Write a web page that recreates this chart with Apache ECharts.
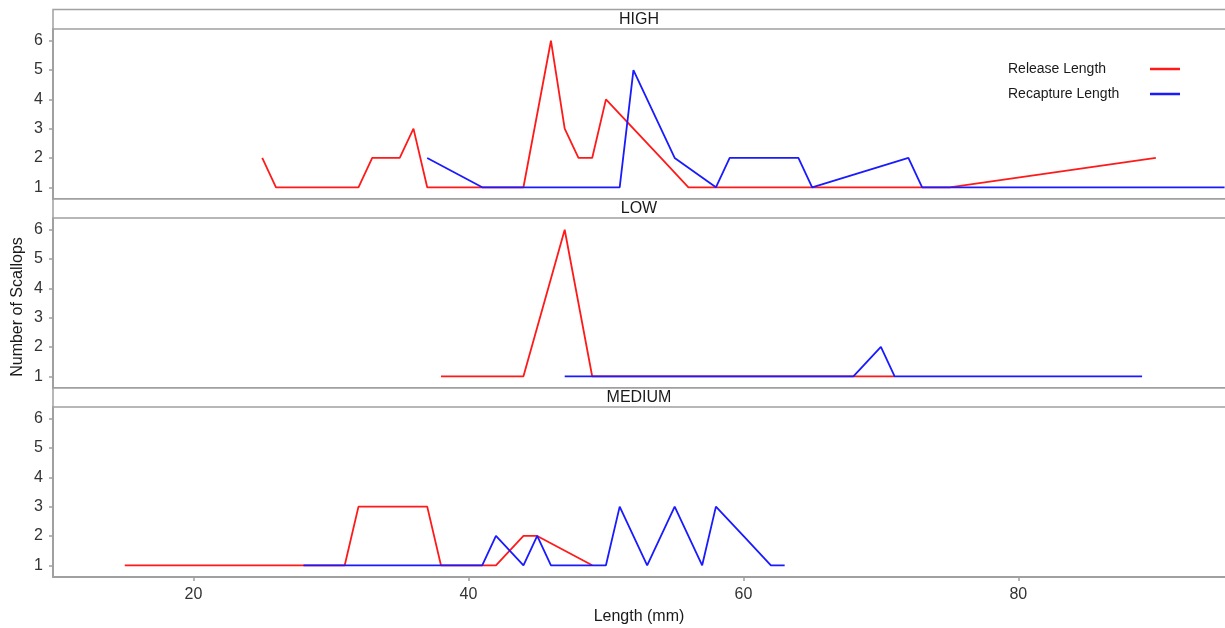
<!DOCTYPE html>
<html>
<head>
<meta charset="utf-8">
<script src="https://cdn.jsdelivr.net/npm/echarts@6/dist/echarts.min.js"></script>
<style>
html,body{margin:0;padding:0;background:#fff;}
#chart{width:1225px;height:628px;}
</style>
</head>
<body>
<div id="chart"></div>
<script>
// ---- data ----
const panels = ['HIGH', 'LOW', 'MEDIUM'];
const seriesNames = ['Release Length', 'Recapture Length'];
const xTicks = [20, 40, 60, 80];
const yTicks = [1, 2, 3, 4, 5, 6];

const highRelease = [[25,2],[26,1],[32,1],[33,2],[35,2],[36,3],[37,1],[44,1],[46,6],[47,3],[48,2],[49,2],[50,4],[52,3],[54,2],[56,1],[75,1],[90,2]];
const highRecapture = [[37,2],[41,1],[51,1],[52,5],[55,2],[58,1],[59,2],[64,2],[65,1],[72,2],[73,1],[95,1]];
const lowRelease = [[38,1],[44,1],[47,6],[49,1],[71,1]];
const lowRecapture = [[47,1],[68,1],[70,2],[71,1],[89,1]];
const mediumRelease = [[15,1],[31,1],[32,3],[37,3],[38,1],[42,1],[44,2],[45,2],[49,1]];
const mediumRecapture = [[28,1],[41,1],[42,2],[44,1],[45,2],[46,1],[50,1],[51,3],[53,1],[55,3],[57,1],[58,3],[60,2],[62,1],[63,1]];

const panelData = [[highRelease, highRecapture], [lowRelease, lowRecapture], [mediumRelease, mediumRecapture]];
const colors = ['#ff1a1a', '#1a1aff'];

// ---- layout ----
const X_MIN = 9.78, X_MAX = 95.03;
const Y_MIN = 0.6, Y_MAX = 6.4;
const LEFT = 53;
const panelTops = [29, 218, 407];
const PANEL_H = 170;
const stripTops = [9.5, 199, 388];
const STRIP_H = [19.5, 19, 19];
const borderColor = '#a0a0a0';
const textColor = '#333333';
const font = 'Liberation Sans, Arial, sans-serif';

const grids = [], xAxes = [], yAxes = [], series = [], graphics = [];

panels.forEach((p, i) => {
  grids.push({left: LEFT, right: 0, top: panelTops[i], height: PANEL_H, containLabel: false});
  const isBottom = i === panels.length - 1;
  xAxes.push({
    type: 'value', gridIndex: i, min: X_MIN, max: X_MAX,
    axisLine: {show: true, lineStyle: {color: borderColor, width: 2}},
    axisTick: {show: isBottom, length: 4, lineStyle: {color: borderColor, width: 1.5}, customValues: xTicks},
    axisLabel: {show: isBottom, customValues: xTicks, color: textColor, fontSize: 16, fontFamily: font, margin: 10},
    splitLine: {show: false}
  });
  yAxes.push({
    type: 'value', gridIndex: i, min: Y_MIN, max: Y_MAX,
    axisLine: {show: true, lineStyle: {color: borderColor, width: 2}},
    axisTick: {show: true, length: 4, lineStyle: {color: borderColor, width: 1.5}, customValues: yTicks},
    axisLabel: {show: true, customValues: yTicks, color: textColor, fontSize: 16, fontFamily: font, margin: 10},
    splitLine: {show: false}
  });
  panelData[i].forEach((d, k) => {
    series.push({
      type: 'line', name: seriesNames[k], xAxisIndex: i, yAxisIndex: i,
      data: d, showSymbol: false, symbol: 'none', clip: true,
      color: colors[k], lineStyle: {width: 1.8, color: colors[k]},
      animation: false, z: 2 + k
    });
  });
  // strip box
  graphics.push({
    type: 'rect', shape: {x: LEFT, y: stripTops[i], width: 1200, height: STRIP_H[i]},
    style: {fill: '#ffffff', stroke: borderColor, lineWidth: 1.5}, z: 1
  });
  graphics.push({
    type: 'text', x: 639, y: stripTops[i] + STRIP_H[i] / 2 + 0.5,
    style: {text: p, fill: '#1a1a1a', font: '16px ' + font, align: 'center', verticalAlign: 'middle'}, z: 5
  });
});

// top ticks above the first strip
grids.push({left: LEFT, right: 0, top: 9.5, height: 19.5});
xAxes.push({
  type: 'value', gridIndex: 3, position: 'top', min: X_MIN, max: X_MAX,
  axisLine: {show: false},
  axisTick: {show: true, length: 5, lineStyle: {color: borderColor, width: 1.5}, customValues: xTicks},
  axisLabel: {show: false}, splitLine: {show: false}
});
yAxes.push({type: 'value', gridIndex: 3, show: false});

// axis titles
graphics.push({
  type: 'text', x: 639, y: 617,
  style: {text: 'Length (mm)', fill: '#1a1a1a', font: '16px ' + font, align: 'center', verticalAlign: 'middle'}
});
graphics.push({
  type: 'text', x: 18, y: 307, rotation: Math.PI / 2,
  style: {text: 'Number of Scallops', fill: '#1a1a1a', font: '16px ' + font, align: 'center', verticalAlign: 'middle'}
});

const chart = echarts.init(document.getElementById('chart'), null, {renderer: 'canvas'});
chart.setOption({
  animation: false,
  backgroundColor: '#ffffff',
  grid: grids,
  xAxis: xAxes,
  yAxis: yAxes,
  series: series,
  graphic: graphics,
  legend: {
    data: seriesNames,
    orient: 'vertical', left: 1003, top: 56,
    align: 'right', icon: 'rect', itemWidth: 30, itemHeight: 2.5, itemGap: 9,
    formatter: '{a|{name}}',
    textStyle: {color: '#1a1a1a', fontSize: 14, fontFamily: font, lineHeight: 16,
      rich: {a: {width: 137, align: 'left', fontSize: 14, fontFamily: font, color: '#1a1a1a', lineHeight: 16}}}
  }
});
</script>
</body>
</html>
